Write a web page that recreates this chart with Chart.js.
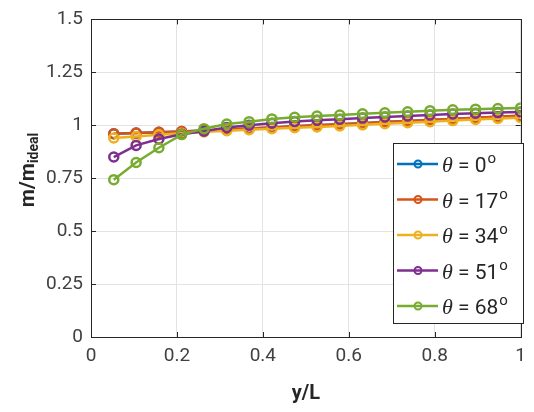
<!DOCTYPE html>
<html>
<head>
<meta charset="utf-8">
<script src="https://cdn.jsdelivr.net/npm/chart.js@4.4.1/dist/chart.umd.min.js"></script>
<style>
  html, body { margin: 0; padding: 0; background: #fff; }
</style>
</head>
<body>
<canvas id="chart" width="534" height="412"></canvas>
<script>
// y/L positions of the samples
var yOverL = [0.053, 0.105, 0.158, 0.211, 0.263, 0.316, 0.368, 0.421, 0.474, 0.526,
              0.579, 0.632, 0.684, 0.737, 0.789, 0.842, 0.895, 0.947, 1.0];

var angles = [0, 17, 34, 51, 68];
var colors = ['#0072BD', '#D95319', '#EDB120', '#7E2F8E', '#77AC30'];

var theta0  = [0.96, 0.963, 0.967, 0.97, 0.975, 0.98, 0.985, 0.99, 0.995, 1.0,
               1.005, 1.01, 1.015, 1.02, 1.025, 1.03, 1.035, 1.04, 1.045];
var theta17 = [0.96, 0.963, 0.967, 0.97, 0.975, 0.98, 0.985, 0.99, 0.995, 1.0,
               1.005, 1.01, 1.015, 1.02, 1.025, 1.03, 1.035, 1.04, 1.045];
var theta34 = [0.94, 0.947, 0.955, 0.962, 0.968, 0.974, 0.979, 0.984, 0.988, 0.992,
               0.997, 1.002, 1.007, 1.012, 1.017, 1.022, 1.027, 1.032, 1.036];
var theta51 = [0.85, 0.905, 0.935, 0.958, 0.972, 0.99, 1.0, 1.01, 1.018, 1.024,
               1.029, 1.034, 1.039, 1.044, 1.049, 1.053, 1.057, 1.06, 1.063];
var theta68 = [0.743, 0.824, 0.894, 0.956, 0.984, 1.006, 1.017, 1.03, 1.038, 1.044,
               1.048, 1.054, 1.059, 1.064, 1.069, 1.073, 1.076, 1.079, 1.082];

var series = [theta0, theta17, theta34, theta51, theta68];

var xTicks = ['0', '0.2', '0.4', '0.6', '0.8', '1'];
var yTicks = ['0', '0.25', '0.5', '0.75', '1', '1.25', '1.5'];

var axisColor = '#262626';
var tickColor = '#404040';

var datasets = series.map(function (vals, i) {
  return {
    label: 'θ = ' + angles[i] + '°',
    data: vals.map(function (v, j) { return { x: yOverL[j], y: v }; }),
    borderColor: colors[i],
    backgroundColor: colors[i],
    pointBackgroundColor: 'rgba(0,0,0,0)',
    pointBorderColor: colors[i],
    pointBorderWidth: 2.5,
    pointRadius: 4.5,
    borderWidth: 2.5,
    order: series.length - i   // last series drawn on top
  };
});

// box, inner ticks, axis titles and in-plot legend
var decorations = {
  id: 'decorations',
  afterDraw: function (chart) {
    var ctx = chart.ctx;
    var a = chart.chartArea;
    var xs = chart.scales.x, ys = chart.scales.y;
    ctx.save();

    // box
    ctx.strokeStyle = axisColor;
    ctx.lineWidth = 1;
    ctx.strokeRect(Math.round(a.left) + 0.5, Math.round(a.top) + 0.5,
                   Math.round(a.right - a.left), Math.round(a.bottom - a.top));

    // inner tick marks on all sides
    ctx.beginPath();
    xs.ticks.forEach(function (t) {
      var px = Math.round(xs.getPixelForValue(t.value)) + 0.5;
      ctx.moveTo(px, a.bottom); ctx.lineTo(px, a.bottom - 5);
      ctx.moveTo(px, a.top); ctx.lineTo(px, a.top + 5);
    });
    ys.ticks.forEach(function (t) {
      var py = Math.round(ys.getPixelForValue(t.value)) + 0.5;
      ctx.moveTo(a.left, py); ctx.lineTo(a.left + 5, py);
      ctx.moveTo(a.right, py); ctx.lineTo(a.right - 5, py);
    });
    ctx.stroke();

    // x title
    ctx.fillStyle = axisColor;
    ctx.font = 'bold 20px Roboto';
    ctx.textAlign = 'center';
    ctx.textBaseline = 'middle';
    ctx.fillText('y/L', (a.left + a.right) / 2, 394);

    // y title with subscript
    ctx.save();
    ctx.translate(26, 170);
    ctx.rotate(-Math.PI / 2);
    ctx.textAlign = 'left';
    ctx.textBaseline = 'alphabetic';
    ctx.font = 'bold 21px Roboto';
    var main = 'm/m';
    var mw = ctx.measureText(main).width;
    ctx.font = 'bold 14px Roboto';
    var sub = 'ideal';
    var sw = ctx.measureText(sub).width;
    var start = -(mw + sw) / 2;
    ctx.font = 'bold 21px Roboto';
    ctx.fillText(main, start, 8);
    ctx.font = 'bold 14px Roboto';
    ctx.fillText(sub, start + mw, 12);
    ctx.restore();

    // legend
    var lx = 393, ly = 143, lw = 130, lh = 180;
    ctx.fillStyle = '#fff';
    ctx.fillRect(lx, ly, lw, lh);
    ctx.strokeStyle = axisColor;
    ctx.lineWidth = 1;
    ctx.strokeRect(lx + 0.5, ly + 0.5, lw, lh);
    chart.data.datasets.forEach(function (ds, i) {
      var cy = 164 + i * 35.5;
      ctx.strokeStyle = ds.borderColor;
      ctx.lineWidth = 2.5;
      ctx.beginPath();
      ctx.moveTo(397, cy); ctx.lineTo(438, cy);
      ctx.stroke();
      ctx.lineWidth = 2;
      ctx.beginPath();
      ctx.arc(418, cy, 3.5, 0, Math.PI * 2);
      ctx.stroke();

      ctx.fillStyle = axisColor;
      ctx.textAlign = 'left';
      ctx.textBaseline = 'alphabetic';
      var tx = 442, base = cy + 8;
      ctx.font = 'italic 22px "Liberation Serif"';
      ctx.fillText('θ', tx, base);
      tx += ctx.measureText('θ').width;
      ctx.font = '21px Roboto';
      var txt = ' = ' + angles[i];
      ctx.fillText(txt, tx, base);
      tx += ctx.measureText(txt).width + 1;
      ctx.font = '15px Roboto';
      ctx.fillText('o', tx, base - 9);
    });

    ctx.restore();
  }
};

var ctx = document.getElementById('chart').getContext('2d');
var myChart = new Chart(ctx, {
  type: 'line',
  data: { datasets: datasets },
  options: {
    responsive: false,
    animation: false,
    layout: { padding: { top: 16, right: 7, left: 0, bottom: 0 } },
    plugins: {
      legend: { display: false },
      tooltip: { enabled: false }
    },
    scales: {
      x: {
        type: 'linear',
        min: 0,
        max: 1,
        afterFit: function (s) { s.height = 75; },
        afterBuildTicks: function (s) {
          s.ticks = xTicks.map(function (t) { return { value: parseFloat(t) }; });
        },
        ticks: {
          color: tickColor,
          font: { family: 'Roboto', size: 19 },
          padding: 8,
          maxRotation: 0,
          callback: function (v, i) { return xTicks[i]; }
        },
        grid: { color: '#e3e3e3', drawTicks: false },
        border: { display: false }
      },
      y: {
        type: 'linear',
        min: 0,
        max: 1.5,
        afterFit: function (s) { s.width = 91; },
        afterBuildTicks: function (s) {
          s.ticks = yTicks.map(function (t) { return { value: parseFloat(t) }; });
        },
        ticks: {
          color: tickColor,
          font: { family: 'Roboto', size: 19 },
          padding: 8,
          callback: function (v, i) { return yTicks[i]; }
        },
        grid: { color: '#e3e3e3', drawTicks: false },
        border: { display: false }
      }
    }
  },
  plugins: [decorations]
});
</script>
</body>
</html>
